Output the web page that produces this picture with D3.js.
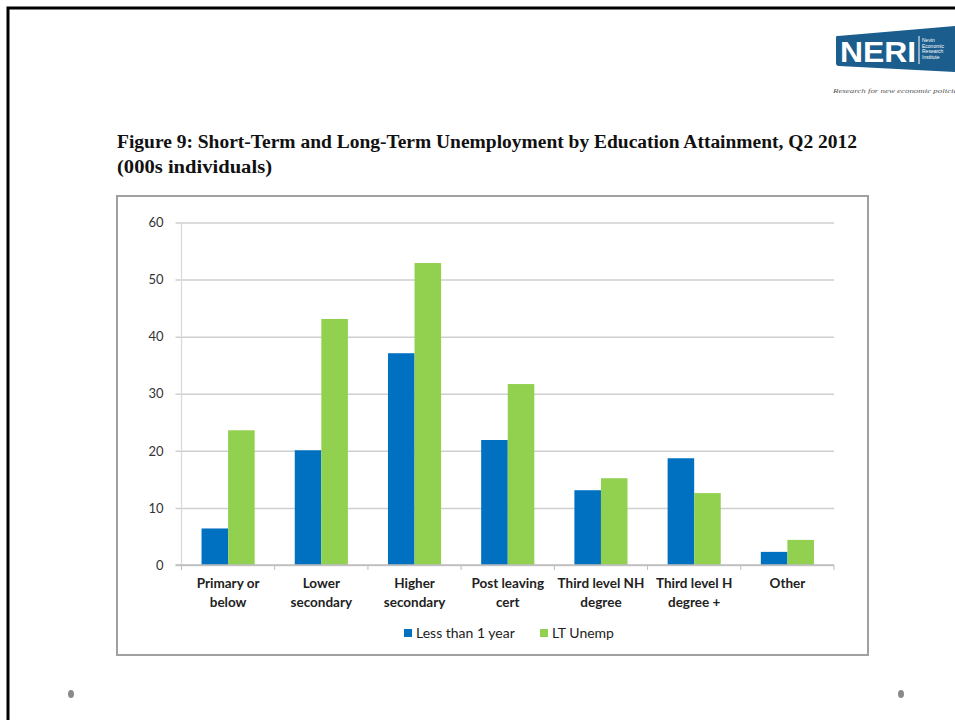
<!DOCTYPE html>
<html>
<head>
<meta charset="utf-8">
<script src="https://cdn.jsdelivr.net/npm/d3@7/dist/d3.min.js"></script>
<style>
  html, body { margin: 0; padding: 0; background: #fff; }
  svg { display: block; }
</style>
</head>
<body>
<svg id="chart" width="955" height="720"></svg>
<script>
// Unemployment by education attainment, Q2 2012 (000s individuals)
const categories = [
  ["Primary or", "below"],
  ["Lower", "secondary"],
  ["Higher", "secondary"],
  ["Post leaving", "cert"],
  ["Third level NH", "degree"],
  ["Third level H", "degree +"],
  ["Other"]
];
const seriesNames = ["Less than 1 year", "LT Unemp"];
const shortTerm = [6.4, 20.1, 37.1, 21.9, 13.1, 18.7, 2.3];
const longTerm = [23.6, 43.1, 52.9, 31.7, 15.2, 12.6, 4.4];
const yTicks = [0, 10, 20, 30, 40, 50, 60];
const colors = ["#0070c0", "#92d050"];

const svg = d3.select("#chart");

// Slide frame (left and top rules)
svg.append("path")
  .attr("d", "M8,720 L8,8 L955,8")
  .attr("fill", "none")
  .attr("stroke", "#000")
  .attr("stroke-width", 3);

// Logo block
const logo = svg.append("g");
logo.append("path")
  .attr("d", "M838,36 Q836,35 836,38 L836,63 Q836,66 839,66 L955,72 L955,26 Z")
  .attr("fill", "#1b5d8d");
logo.append("text")
  .attr("x", 840).attr("y", 62)
  .attr("font-family", "Liberation Sans, Arial, sans-serif")
  .attr("font-weight", "bold")
  .attr("font-size", 30)
  .attr("fill", "#fff")
  .attr("textLength", 76)
  .attr("lengthAdjust", "spacingAndGlyphs")
  .text("NERI");
logo.append("line")
  .attr("x1", 919).attr("x2", 919).attr("y1", 36).attr("y2", 64)
  .attr("stroke", "#fff").attr("stroke-width", 1);
["Nevin", "Economic", "Research", "Institute"].forEach((w, i) => {
  logo.append("text")
    .attr("x", 922).attr("y", 42 + i * 5.5)
    .attr("font-family", "Liberation Sans, Arial, sans-serif")
    .attr("font-size", 5)
    .attr("fill", "#fff")
    .text(w);
});
logo.append("text")
  .attr("x", 833).attr("y", 93)
  .attr("font-family", "Liberation Serif, serif")
  .attr("font-style", "italic")
  .attr("font-size", 7)
  .attr("fill", "#555")
  .attr("textLength", 128)
  .attr("lengthAdjust", "spacingAndGlyphs")
  .text("Research for new economic policies");

// Title
const titleFont = "Liberation Serif, DejaVu Serif, serif";
svg.append("text")
  .attr("x", 117).attr("y", 148)
  .attr("font-family", titleFont)
  .attr("font-weight", "bold")
  .attr("font-size", 18)
  .attr("fill", "#111")
  .attr("textLength", 740)
  .attr("lengthAdjust", "spacingAndGlyphs")
  .text("Figure 9: Short-Term and Long-Term Unemployment by Education Attainment, Q2 2012");
svg.append("text")
  .attr("x", 117).attr("y", 173)
  .attr("font-family", titleFont)
  .attr("font-weight", "bold")
  .attr("font-size", 18)
  .attr("fill", "#111")
  .attr("textLength", 155)
  .attr("lengthAdjust", "spacingAndGlyphs")
  .text("(000s individuals)");

// Chart box
svg.append("rect")
  .attr("x", 117).attr("y", 196)
  .attr("width", 751).attr("height", 459)
  .attr("fill", "#fff")
  .attr("stroke", "#a0a0a0")
  .attr("stroke-width", 2);

const plot = { left: 181.5, right: 834, top: 222.5, bottom: 565 };
const labelFont = "Lato, 'Open Sans', 'Liberation Sans', sans-serif";

const x = d3.scaleBand()
  .domain(d3.range(categories.length))
  .range([plot.left, plot.right])
  .paddingInner(0.43)
  .paddingOuter(0.215);
const xBand = d3.scaleBand()
  .domain(d3.range(categories.length))
  .range([plot.left, plot.right]);
const x1 = d3.scaleBand()
  .domain([0, 1])
  .range([0, x.bandwidth()]);
const y = d3.scaleLinear().domain([0, 60]).range([plot.bottom, plot.top]);

// Gridlines and y labels
const yAxis = d3.axisLeft(y)
  .tickValues(yTicks)
  .tickSize(-(plot.right - plot.left) - 6)
  .tickPadding(12)
  .tickFormat(d3.format("d"));
const gy = svg.append("g")
  .attr("transform", `translate(${plot.left - 6},0)`)
  .call(yAxis);
gy.select(".domain").remove();
gy.selectAll(".tick line")
  .attr("stroke", "#cfcfcf")
  .attr("stroke-width", 1.5);
gy.selectAll(".tick text")
  .attr("font-family", labelFont)
  .attr("font-size", 13)
  .attr("fill", "#333");

// Vertical y-axis line
svg.append("line")
  .attr("x1", plot.left).attr("x2", plot.left)
  .attr("y1", plot.top).attr("y2", plot.bottom)
  .attr("stroke", "#d8d8d8").attr("stroke-width", 1.2);

// Bars
const data = categories.map((c, i) => ({ i, values: [shortTerm[i], longTerm[i]] }));
const groups = svg.append("g").selectAll("g")
  .data(data)
  .join("g")
  .attr("transform", d => `translate(${x(d.i)},0)`);
groups.selectAll("rect")
  .data(d => d.values.map((v, k) => ({ v, k })))
  .join("rect")
  .attr("x", d => x1(d.k))
  .attr("width", x1.bandwidth())
  .attr("y", d => y(d.v))
  .attr("height", d => y(0) - y(d.v))
  .attr("fill", d => colors[d.k]);

// X axis baseline with category boundary ticks
const xAxisG = svg.append("g");
xAxisG.append("line")
  .attr("x1", plot.left - 6).attr("x2", plot.right)
  .attr("y1", plot.bottom).attr("y2", plot.bottom)
  .attr("stroke", "#bdbdbd").attr("stroke-width", 1.5);
xAxisG.selectAll("line.tk")
  .data(d3.range(categories.length + 1))
  .join("line")
  .attr("class", "tk")
  .attr("x1", i => i < categories.length ? xBand(i) : plot.right)
  .attr("x2", i => i < categories.length ? xBand(i) : plot.right)
  .attr("y1", plot.bottom).attr("y2", plot.bottom + 5)
  .attr("stroke", "#bdbdbd").attr("stroke-width", 1);

// Category labels
const catLabels = svg.append("g").selectAll("text")
  .data(categories)
  .join("text")
  .attr("x", (d, i) => xBand(i) + xBand.bandwidth() / 2)
  .attr("y", 588)
  .attr("text-anchor", "middle")
  .attr("font-family", labelFont)
  .attr("font-weight", "bold")
  .attr("font-size", 13.5)
  .attr("fill", "#222");
catLabels.selectAll("tspan")
  .data(d => d)
  .join("tspan")
  .attr("x", function() { return d3.select(this.parentNode).attr("x"); })
  .attr("dy", (d, k) => k === 0 ? 0 : 19)
  .text(d => d);

// Legend
const legendItems = [
  { name: seriesNames[0], color: colors[0], x: 404 },
  { name: seriesNames[1], color: colors[1], x: 540 }
];
const lg = svg.append("g").selectAll("g")
  .data(legendItems)
  .join("g")
  .attr("transform", d => `translate(${d.x},633)`);
lg.append("rect")
  .attr("x", 0).attr("y", -4)
  .attr("width", 8).attr("height", 8)
  .attr("fill", d => d.color);
lg.append("text")
  .attr("x", 12).attr("y", 5)
  .attr("font-family", labelFont)
  .attr("font-size", 14)
  .attr("fill", "#222")
  .text(d => d.name);

// Slide bullets
svg.selectAll("ellipse.bullet")
  .data([71, 901])
  .join("ellipse")
  .attr("class", "bullet")
  .attr("cx", d => d).attr("cy", 694)
  .attr("rx", 3).attr("ry", 4)
  .attr("fill", "#8a8a8a");
</script>
</body>
</html>
